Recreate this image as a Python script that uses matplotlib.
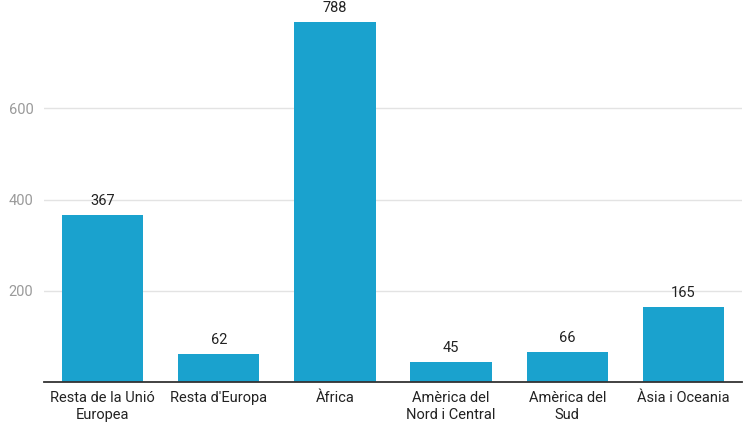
import matplotlib.pyplot as plt

# Data
regions = ["Resta de la Unió\nEuropea", "Resta d'Europa", "Àfrica",
           "Amèrica del\nNord i Central", "Amèrica del\nSud", "Àsia i Oceania"]
values = [367, 62, 788, 45, 66, 165]
yticks = [200, 400, 600]

plt.rcParams['font.family'] = ['Roboto', 'DejaVu Sans']

fig = plt.figure(figsize=(7.54, 4.24), dpi=100)
ax = fig.add_axes([0.0589, 0.0983, 0.9247, 0.8617])

x = range(len(values))
bars = ax.bar(x, values, width=0.7, color="#1aa2ce", zorder=3)

for rect, v in zip(bars, values):
    ax.annotate(str(v), (rect.get_x() + rect.get_width() / 2, v),
                xytext=(0, 5), textcoords="offset points",
                ha="center", va="bottom", fontsize=10.5, color="#222222")

ax.set_xlim(-0.5, len(values) - 0.5)
ax.set_ylim(0, 800)
ax.set_yticks(yticks)
ax.set_yticklabels([str(t) for t in yticks], fontsize=10.5, color="#9a9a9a")
ax.set_xticks(list(x))
ax.set_xticklabels(regions, fontsize=10.5, color="#222222", linespacing=1.3)
ax.tick_params(axis="both", length=0)
ax.tick_params(axis="x", pad=6)
ax.tick_params(axis="y", pad=8)

ax.grid(axis="y", color="#e3e3e3", linewidth=1, zorder=0)
for side in ["top", "right", "left"]:
    ax.spines[side].set_visible(False)
ax.spines["bottom"].set_color("#333333")
ax.spines["bottom"].set_linewidth(1.3)
ax.spines["bottom"].set_zorder(4)

fig.savefig("out.png", dpi=100)
